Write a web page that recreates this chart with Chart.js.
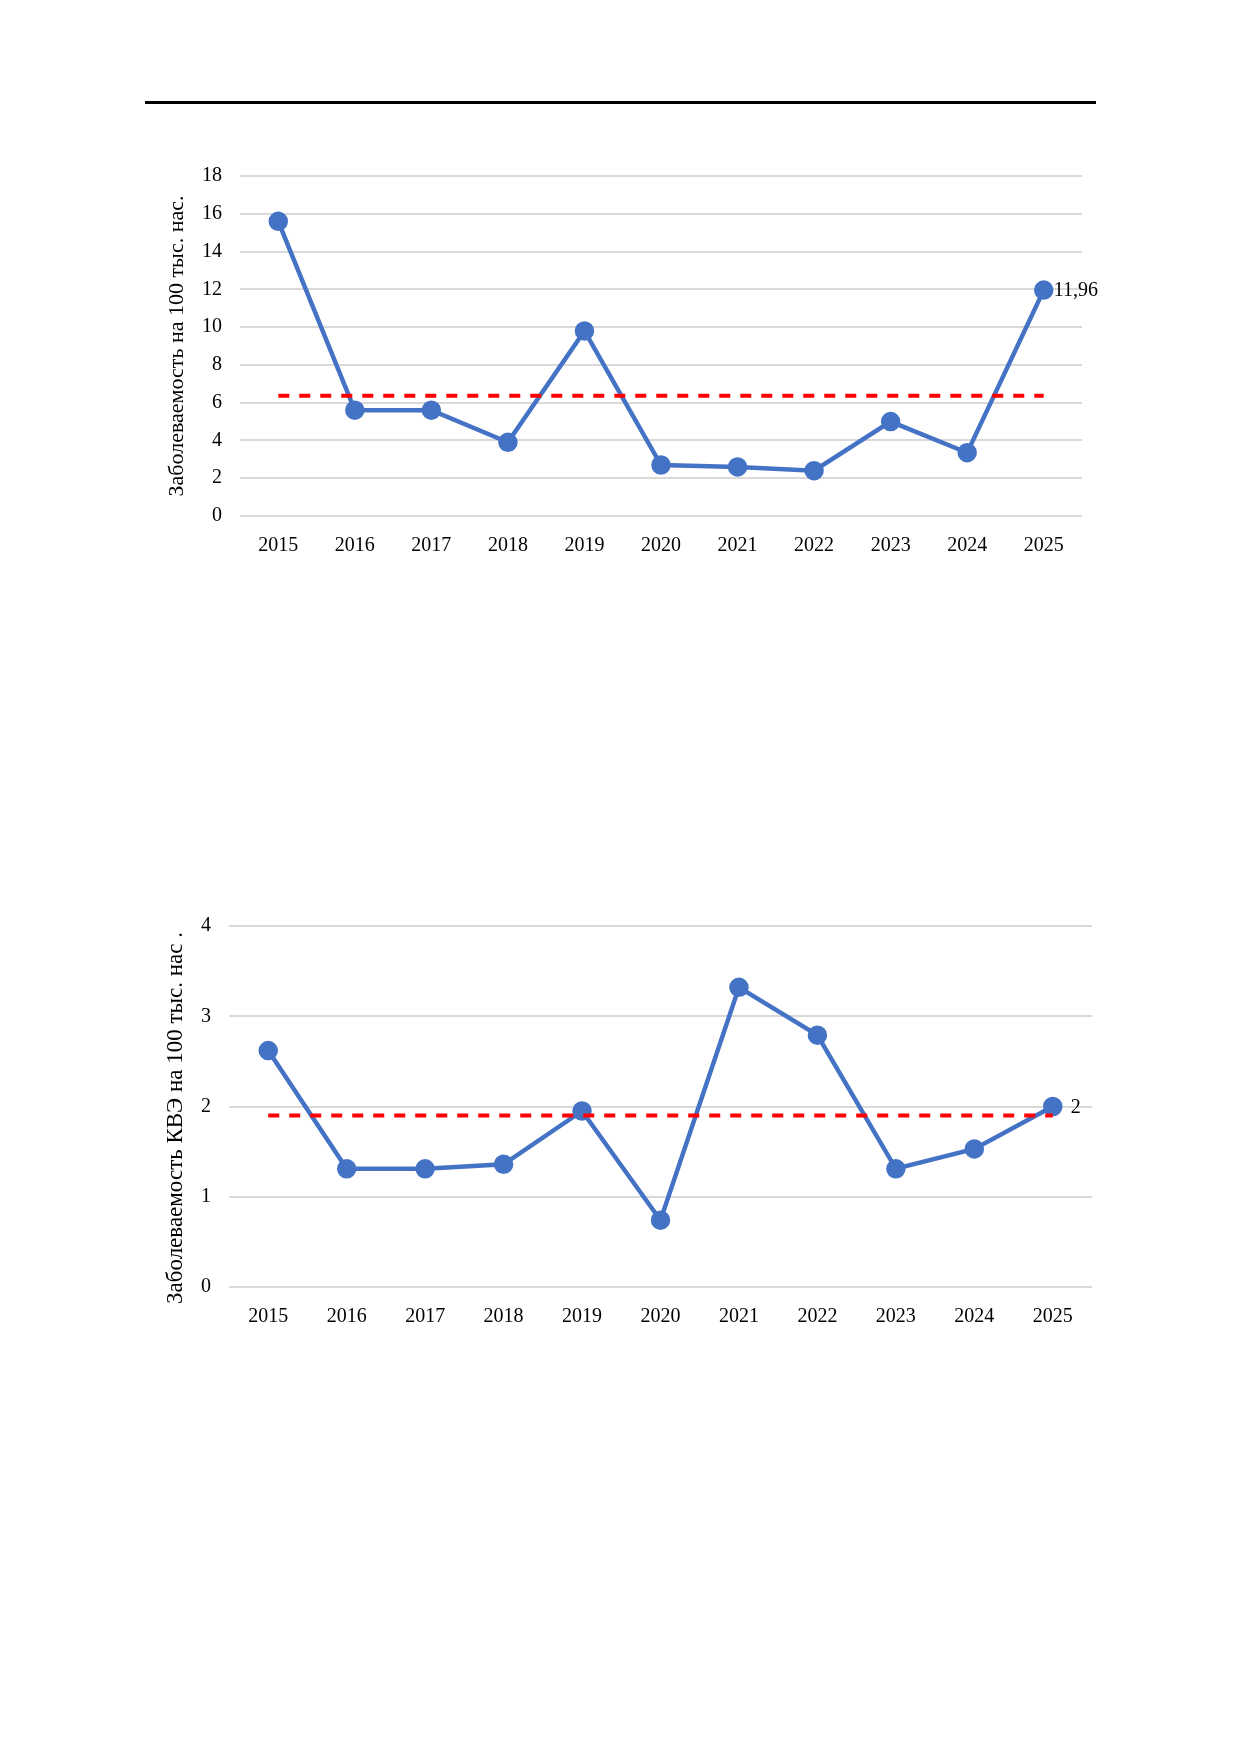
<!DOCTYPE html>
<html>
<head>
<meta charset="utf-8">
<script src="https://cdn.jsdelivr.net/npm/chart.js@4/dist/chart.umd.min.js"></script>
<style>
  body { margin: 0; background: #fff; }
  #page { position: relative; width: 1240px; height: 1754px; background: #fff; }
  #rule { position: absolute; left: 145px; top: 101px; width: 951px; height: 3px; background: #000; }
  canvas { position: absolute; left: 0; }
</style>
</head>
<body>
<div id="page">
  <div id="rule"></div>
  <canvas id="c1" width="1240" height="480" style="top:120px"></canvas>
  <canvas id="c2" width="1240" height="480" style="top:870px"></canvas>
</div>
<script>
// data
var years = ['2015', '2016', '2017', '2018', '2019', '2020', '2021', '2022', '2023', '2024', '2025'];

var incidence = [15.6, 5.6, 5.6, 3.9, 9.8, 2.7, 2.6, 2.4, 5.0, 3.35, 11.96];
var incidenceAvg = [6.37, 6.37, 6.37, 6.37, 6.37, 6.37, 6.37, 6.37, 6.37, 6.37, 6.37];
var yTitle1 = 'Заболеваемость на 100 тыс. нас.';

var kveIncidence = [2.62, 1.31, 1.31, 1.36, 1.95, 0.74, 3.32, 2.79, 1.31, 1.53, 2];
var kveAvg = [1.9, 1.9, 1.9, 1.9, 1.9, 1.9, 1.9, 1.9, 1.9, 1.9, 1.9];
var yTitle2 = 'Заболеваемость КВЭ на 100 тыс. нас .    ';

var BLUE = '#4472C4';
var RED = '#FF0000';
var serif = '"Liberation Serif", "Times New Roman", serif';

// label on the last point only
var lastLabel = {
  id: 'lastLabel',
  afterDatasetsDraw: function (chart, args, opts) {
    var meta = chart.getDatasetMeta(opts.dataset);
    var i = meta.data.length - 1;
    var pt = meta.data[i];
    var v = chart.data.datasets[opts.dataset].data[i];
    var ctx = chart.ctx;
    ctx.save();
    ctx.font = '20px ' + serif;
    ctx.fillStyle = '#000';
    ctx.textAlign = 'left';
    ctx.textBaseline = 'middle';
    ctx.fillText(String(v).replace('.', ','), pt.x + opts.dx, pt.y + 1);
    ctx.restore();
  }
};

function makeChart(id, values, avg, title, titleSize, yMax, yStep, pad, yWidth, labelDx) {
  new Chart(document.getElementById(id), {
    type: 'line',
    data: {
      labels: years,
      datasets: [{
        data: avg,
        borderColor: RED,
        borderWidth: 4,
        borderDash: [11, 10],
        pointRadius: 0,
        order: 0
      }, {
        data: values,
        borderColor: BLUE,
        backgroundColor: BLUE,
        borderWidth: 4.5,
        pointRadius: 7.5,
        pointBackgroundColor: BLUE,
        pointBorderColor: BLUE,
        tension: 0,
        order: 1
      }]
    },
    options: {
      responsive: false,
      animation: false,
      layout: { padding: pad },
      plugins: {
        legend: { display: false },
        tooltip: { enabled: false },
        lastLabel: { dataset: 1, dx: labelDx }
      },
      scales: {
        x: {
          offset: true,
          grid: { display: false },
          border: { display: false },
          ticks: { font: { family: serif, size: 20 }, color: '#000', padding: 10, maxRotation: 0 },
          afterFit: function (s) { s.height = 60; }
        },
        y: {
          min: 0,
          max: yMax,
          grid: { color: '#D9D9D9', lineWidth: 2, drawTicks: false },
          border: { display: false },
          ticks: { stepSize: yStep, font: { family: serif, size: 20 }, color: '#000', padding: 18 },
          title: { display: true, text: title, font: { family: serif, size: titleSize }, color: '#000', padding: 0 },
          afterFit: function (s) { s.width = yWidth; }
        }
      }
    },
    plugins: [lastLabel]
  });
}

makeChart('c1', incidence, incidenceAvg, yTitle1, 22, 18, 2,
  { left: 164, right: 158, top: 56, bottom: 24 }, 76, 10);
makeChart('c2', kveIncidence, kveAvg, yTitle2, 23, 4, 1,
  { left: 162, right: 148, top: 56, bottom: 3 }, 67, 18);
</script>
</body>
</html>
